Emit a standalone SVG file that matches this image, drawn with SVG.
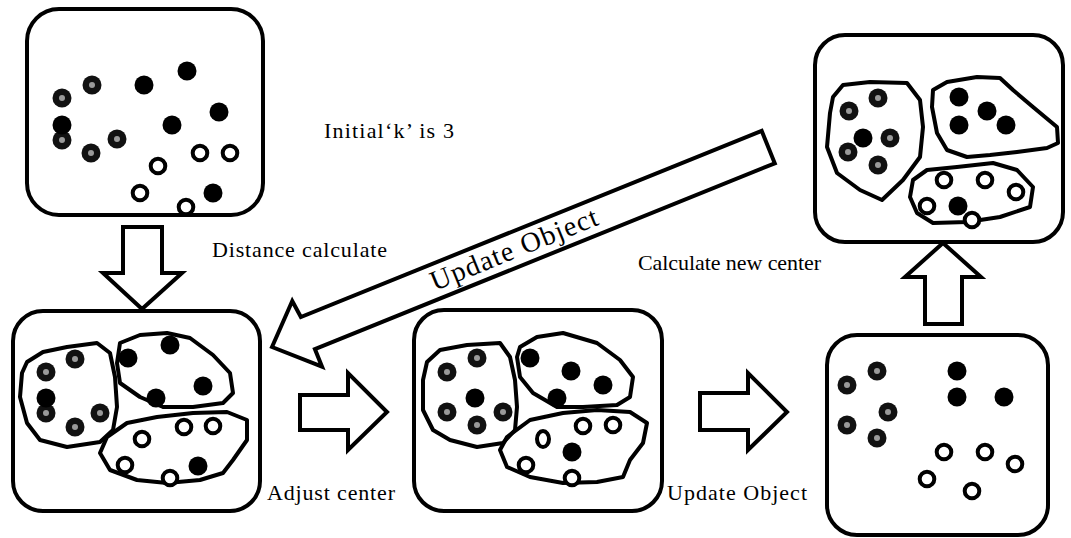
<svg xmlns="http://www.w3.org/2000/svg" xmlns:xlink="http://www.w3.org/1999/xlink" width="1071" height="538" viewBox="0 0 1071 538">
<style>
.box{fill:none;stroke:#000;stroke-width:4}
.cl{fill:none;stroke:#000;stroke-width:4;stroke-linejoin:round}
.ar{fill:#fff;stroke:#000;stroke-width:4;stroke-linejoin:miter}
.t{font-family:"Liberation Serif","Times New Roman",serif;font-size:22px;fill:#000}
</style>
<defs>
<circle id="bd" r="9.5" fill="#000"/>
<g id="gd"><circle r="9.5" fill="#111"/><circle r="3" fill="#9a9a9a"/></g>
<circle id="od" r="7.3" fill="#fff" stroke="#000" stroke-width="4"/>
</defs>
<rect width="1071" height="538" fill="#fff"/>

<g id="box-initial">
<rect class="box" x="27" y="9" width="236" height="206" rx="32"/>
<use href="#gd" x="92" y="85"/><use href="#gd" x="62" y="98"/><use href="#gd" x="62" y="140"/><use href="#gd" x="91" y="153"/><use href="#gd" x="117" y="139"/>
<use href="#bd" x="62" y="125"/><use href="#bd" x="144" y="85"/><use href="#bd" x="187" y="71"/><use href="#bd" x="219" y="112"/><use href="#bd" x="172" y="125"/><use href="#bd" x="213" y="193"/>
<use href="#od" x="158" y="166"/><use href="#od" x="200" y="153"/><use href="#od" x="230" y="153"/><use href="#od" x="140" y="193"/><use href="#od" x="186" y="207"/>
</g>

<g id="box-final">
<rect class="box" x="815" y="35" width="248" height="207" rx="30"/>
<polygon class="cl" points="833,97 843,85 870,82 907,83 920,100 923,127 920,157 903,180 882,200 860,190 837,173 827,147 830,113"/>
<polygon class="cl" points="933,90 947,82 977,77 1000,78 1013,90 1033,107 1057,127 1058,143 1047,148 1017,152 990,155 967,157 947,150 937,133 932,107"/>
<polygon class="cl" points="913,180 927,170 957,167 993,163 1017,170 1033,187 1030,207 1000,217 967,222 933,223 917,213 910,197"/>
<use href="#gd" x="878" y="98"/><use href="#gd" x="849" y="111"/><use href="#gd" x="890" y="138"/><use href="#gd" x="848" y="152"/><use href="#gd" x="878" y="165"/>
<use href="#bd" x="863" y="138"/><use href="#bd" x="959" y="97"/><use href="#bd" x="987" y="111"/><use href="#bd" x="959" y="125"/><use href="#bd" x="1006" y="125"/><use href="#bd" x="958" y="206"/>
<use href="#od" x="944" y="180"/><use href="#od" x="985" y="180"/><use href="#od" x="1016" y="192"/><use href="#od" x="927" y="206"/><use href="#od" x="972" y="220"/>
</g>

<g id="box-distance">
<rect class="box" x="13" y="311" width="247" height="200" rx="30"/>
<polygon class="cl" points="27,362 43,352 67,347 97,343 110,353 115,377 117,407 113,430 100,442 67,447 40,440 27,423 20,397 22,373"/>
<polygon class="cl" points="120,343 140,335 167,333 190,338 213,355 230,373 233,393 223,403 193,407 163,407 140,397 120,383 117,363"/>
<polygon class="cl" points="107,437 127,423 157,417 193,413 227,412 247,420 247,440 233,460 223,473 200,480 167,483 137,480 110,470 100,453"/>
<use href="#gd" x="75" y="359"/><use href="#gd" x="46" y="372"/><use href="#gd" x="46" y="413"/><use href="#gd" x="100" y="413"/><use href="#gd" x="75" y="427"/>
<use href="#bd" x="46" y="398"/><use href="#bd" x="170" y="345"/><use href="#bd" x="128" y="358"/><use href="#bd" x="203" y="386"/><use href="#bd" x="156" y="398"/><use href="#bd" x="198" y="466"/>
<use href="#od" x="184" y="427"/><use href="#od" x="213" y="426"/><use href="#od" x="142" y="439"/><use href="#od" x="125" y="465"/><use href="#od" x="170" y="478"/>
</g>

<g id="box-adjust">
<rect class="box" x="414" y="310" width="248" height="201" rx="30"/>
<polygon class="cl" points="427,362 440,350 467,345 500,343 510,357 515,380 517,407 515,430 503,443 477,447 450,440 433,430 423,410 423,380"/>
<polygon class="cl" points="520,347 537,337 563,333 597,343 620,360 633,377 630,397 617,405 583,407 557,407 533,393 520,377 517,357"/>
<polygon class="cl" points="507,437 530,420 563,413 597,410 630,412 647,423 643,443 630,460 623,477 597,482 563,483 530,477 507,467 500,450"/>
<use href="#gd" x="477" y="358"/><use href="#gd" x="447" y="372"/><use href="#gd" x="447" y="412"/><use href="#gd" x="503" y="412"/><use href="#gd" x="477" y="425"/>
<use href="#bd" x="475" y="398"/><use href="#bd" x="530" y="358"/><use href="#bd" x="571" y="371"/><use href="#bd" x="603" y="385"/><use href="#bd" x="557" y="398"/><use href="#bd" x="572" y="452"/>
<use href="#od" x="583" y="426"/><use href="#od" x="613" y="425"/><ellipse cx="543" cy="439" rx="6" ry="8" fill="#fff" stroke="#000" stroke-width="4"/><use href="#od" x="526" y="465"/><use href="#od" x="572" y="478"/>
</g>

<g id="box-update">
<rect class="box" x="827" y="335" width="221" height="200" rx="30"/>
<use href="#gd" x="877" y="371"/><use href="#gd" x="847" y="385"/><use href="#gd" x="888" y="412"/><use href="#gd" x="847" y="425"/><use href="#gd" x="877" y="438"/>
<use href="#bd" x="957" y="371"/><use href="#bd" x="957" y="397"/><use href="#bd" x="1004" y="397"/>
<use href="#od" x="944" y="452"/><use href="#od" x="985" y="452"/><use href="#od" x="1015" y="464"/><use href="#od" x="927" y="479"/><use href="#od" x="972" y="491"/>
</g>

<g id="connectors">
<polygon class="ar" points="123,227 162,227 162,273 182,273 142,309 103,273 123,273"/>
<polygon class="ar" points="300,395 348,395 348,373 387,412 348,450 348,430 300,430"/>
<polygon class="ar" points="700,393 748,393 748,373 787,412 748,450 748,430 700,430"/>
<polygon class="ar" points="943,243 981,277 962,277 962,324 925,324 925,277 905,277"/>
<g transform="translate(272,347) rotate(-22)">
<polygon class="ar" points="0,0 36,-35 38,-17 535,-17 535,18 39,18 39,37"/>
<text class="t" x="172" y="9" style="font-size:28px" textLength="178" lengthAdjust="spacing">Update Object</text>
</g>
</g>

<g id="labels">
<text class="t" x="324" y="138" textLength="130" lengthAdjust="spacing">Initial‘k’ is 3</text>
<text class="t" x="212" y="257" textLength="175" lengthAdjust="spacing">Distance calculate</text>
<text class="t" x="638" y="270" textLength="183" lengthAdjust="spacing">Calculate new center</text>
<text class="t" x="267" y="500" textLength="128" lengthAdjust="spacing">Adjust center</text>
<text class="t" x="667" y="500" textLength="140" lengthAdjust="spacing">Update Object</text>
</g>
</svg>
